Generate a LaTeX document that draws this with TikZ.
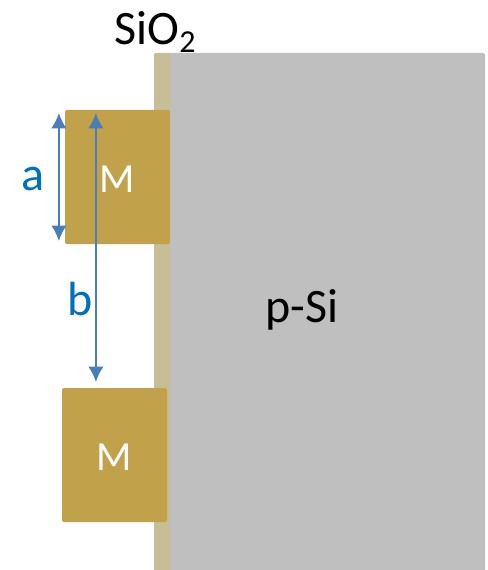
\documentclass[tikz,border=0pt]{standalone}
\usepackage{fontspec}
\setmainfont{Carlito}
\usetikzlibrary{arrows.meta}

\definecolor{oxidecolor}{RGB}{197,190,151}
\definecolor{siliconcolor}{RGB}{191,191,191}
\definecolor{metalcolor}{RGB}{193,162,74}
\definecolor{arrowcolor}{RGB}{74,126,187}
\definecolor{labelcolor}{RGB}{0,112,192}

\tikzset{every picture/.style={line width=0.75pt}}
\tikzset{
	layerbox/.style={inner sep=0pt,outer sep=0pt,rounded corners=1.5pt},
	metalbox/.style={layerbox,fill=metalcolor,minimum width=78.75pt,minimum height=100.5pt},
	metaltext/.style={text=white,font=\fontsize{31}{31}\selectfont},
	dimline/.style={draw=arrowcolor,line width=1.4pt,{Latex[length=11.5pt,width=11.5pt]}-{Latex[length=11.5pt,width=11.5pt]}},
	dimlabel/.style={text=labelcolor,font=\fontsize{36}{36}\selectfont},
	blacklabel/.style={text=black,font=\fontsize{36}{36}\selectfont}
}

\begin{document}
\begin{tikzpicture}[x=0.75pt,y=0.75pt,yscale=-1,xscale=1]
	\useasboundingbox (0,0) rectangle (488,570);

	% Layers
	\fill [oxidecolor,rounded corners=1.5pt] (154,53) -- (172,53) -- (172,575) -- (154,575) -- cycle;
	\fill [siliconcolor,rounded corners=1.5pt] (170,53) -- (485,53) -- (485,575) -- (170,575) -- cycle;

	% Metal contacts
	\node [metalbox] (topM) at (117.5,177) {};
	\node [metalbox] (botM) at (114.5,455) {};
	\node [metaltext] (topMtext) at (117,179) {M};
	\node [metaltext] (botMtext) at (114.5,457) {M};

	% Arrow ends
	\coordinate (aTop) at (58.9,113);
	\coordinate (aBot) at (58.9,241);
	\coordinate (bTop) at (95.9,113);
	\coordinate (bBot) at (95.9,382);
	\draw [dimline] (aTop) -- (aBot);
	\draw [dimline] (bTop) -- (bBot);

	% Text Node
	\node [dimlabel] (aLabel) at (33,179) {a};
	% Text Node
	\node [dimlabel] (bLabel) at (80,299) {b};
	% Text Node
	\node [blacklabel] (siLabel) at (302,310) {p-Si};
	% Text Node
	\node [blacklabel] (oxLabel) at (155,32) {SiO\raisebox{-6pt}{\fontsize{24}{24}\selectfont 2}};
\end{tikzpicture}
\end{document}
